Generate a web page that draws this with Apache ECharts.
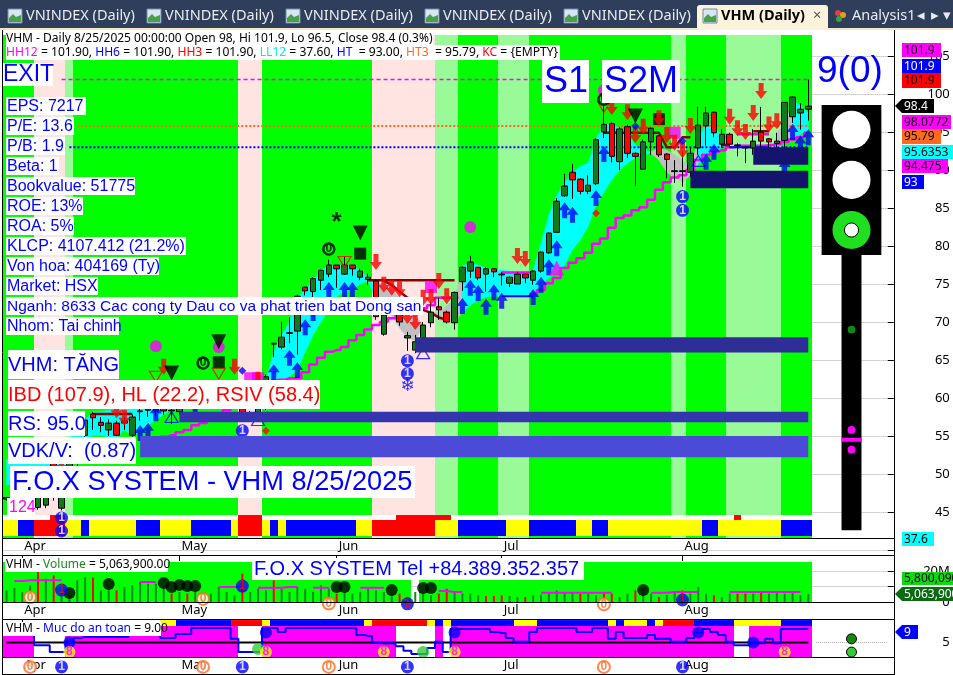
<!DOCTYPE html>
<html><head><meta charset="utf-8">
<style>html,body{margin:0;padding:0;background:#fff}#c{width:953px;height:675px}</style>
<script src="https://cdn.jsdelivr.net/npm/echarts@6/dist/echarts.min.js"></script>
</head><body><div id="c"></div>
<script>
const monthTickIndex=[2,22,42,63,86];
const monthNames=['Apr','May','Jun','Jul','Aug'];
const barCount=103, axisSlots=113;
// [open, close, low, high]
const ohlc=[[46.7,46.9,46.5,47],[46.5,47.2,46,47.5],[46,46.8,45.5,47.3],[45.4,46.5,45,47],[45.6,47,45.3,47.5],[45.9,47.5,45.5,48],[51.5,47,46.5,52],[45.5,49.5,45.2,50],[49,52,48.5,52.5],[51.5,54,51,54.5],
[55.1,57.1,54.8,57.5],[57.9,57.4,55.8,58.2],[56.8,56.4,55.5,57.5],[55.8,56.7,55,57.2],[56.7,55.1,55,57],[57,56.7,55.8,57.5],[55.1,57.5,54.9,57.8],[58.2,58.3,57,58.6],[58.4,58.6,57.5,59],[58.3,58.7,57.6,58.9],
[58.7,58.3,57.8,59],[58.3,58.4,56.6,58.7],[58.2,58.7,57.8,59.3],[59.5,60.5,59,61.5],[60.5,61,60,62],[60.8,61.3,60,61.7],[61.2,60.4,59.8,61.6],[60.2,61,59.8,61.5],[61,60.3,59.7,61.4],[60.3,59.9,59.3,60.8],
[59.1,57.8,56.9,59.6],[57.4,57.9,57,58.3],[58,59,57.7,60],[58.7,62.8,58.4,63.1],[67.1,67.2,65.4,67.2],[66.7,68,66.4,70],[68.5,68.6,67.2,70.6],[68.8,73.4,65.7,73.6],[74.6,74.1,73.5,74.6],[74,75.7,72.9,75.9],
[75.5,76.8,74.2,76.9],[76.3,77.5,75.9,78.2],[77.5,77,74.5,77.5],[76.3,77.5,76.2,78.6],[77.5,77,76.1,77.5],[75.9,76.7,75.5,77],[75.6,75.9,74.9,76.4],[75.4,70.7,70.3,75.6],[68.4,70.9,68.2,71.8],[72.8,71.7,71,73],
[71.2,70,69.5,71.5],[67.9,68.2,66.2,68.7],[66.3,67.4,65.9,68.3],[67.8,69.6,67,70],[69.9,71.3,69.3,72.6],[72,71.6,70.3,73.2],[71.3,70,69.8,71.5],[69.9,73.9,69,74],[75.3,77.2,74.1,77.3],[76.7,77.9,75.8,78.7],
[77.2,75.8,75.5,77.2],[76.3,77,74,77.2],[77,76.6,75.9,77],[76.2,76.3,74.8,76.6],[75.1,75.9,74.6,76],[75,76.3,75,76.6],[76.3,75.8,75.1,76.4],[75.5,76.7,74.9,76.8],[76.7,79.2,76.5,79.3],[79.1,81.7,79,81.8],
[81.8,85.9,81.8,86.3],[86.6,87.9,86.5,89.5],[89.7,88.7,86.2,90.8],[88.8,87.2,86.8,88.9],[87.2,88,86.8,89.3],[88.2,94,88,94.2],[95,96,94.2,98.8],[96.1,91.8,91,96.3],[91.1,95.4,90,95.6],[95.7,92.2,91.6,96],
[92.2,91.8,87.9,92.3],[90.1,93.7,90,94],[93.7,95.5,92,95.6],[94.5,92,91.7,94.6],[92.1,91.4,88.9,92.2],[89.8,89.9,88.3,91.3],[89.8,89.9,87.8,92.5],[89.7,92.2,89.1,92.9],[92.9,95.9,92,98.3],[95.8,97.5,93.2,98.3],
[97.6,94.9,94.3,97.7],[93.4,94.7,92.9,95.4],[94.7,93.4,92.9,94.9],[93.2,93.3,91.8,93.5],[92.9,93,90.9,93.1],[92.9,93.8,92,95.4],[95,93.8,92.2,98.3],[94.1,93.7,92,94.2],[93.5,93.8,92.2,94.9],[93.9,98.9,92.6,98.9],
[97,99.6,96.2,99.7],[97.5,98,95.3,98.8],[98,98.4,96.5,101.9]];
// ribbon [upper, lower] per bar
const ribbon=[[51.9,48.6],[52.1,48.7],[52.4,49],[52.6,49.2],[52.9,49.5],[53.2,49.7],[53.4,50.3],[53.8,50.8],[54.7,52.1],[55.8,53.2],[57.1,54.5],[58.2,55.1],[58.2,55.1],[58.4,54.9],[58.4,54.7],[59.1,55.8],[59.1,55],[59.1,55.8],[59.1,56.4],[59.1,57.1],[59.1,57.9],[59.1,58.4],
null,null,null,null,null,null,null,null,null,null,null,
[62.4,59.7],[66.1,60.8],[68.3,61.6],[70,62.8],[73.2,63.7],[74.3,66.1],[75.5,68.3],[76.8,70],[77.4,71.6],[77.5,73.4],[77.5,74],[77.4,74.3],[76.8,75],[75.8,75.4],
[75.4,72.9],[74.9,71.6],[74.2,70.9],[73.2,69.2],[72.2,68],[70.8,67.5],[69.6,69.6],[71.2,71.2],[71.3,70.3],[72.1,69.9],[72.9,69.9],
[77.4,71.3],[77.8,72.2],[77.5,72.9],[77.1,73.3],[76.8,73.5],[76.8,73.5],[76.7,73.4],[76.6,73.4],[76.6,73.5],[76.8,73.8],[80.4,74.9],[84.1,75.8],[86.7,76.6],[88.3,77.5],[89.7,79.5],[90.5,80.8],[90.9,82.6],[94.1,85.4],[95.9,87.1],[96.1,88.7],[95.5,90],[94.6,90.9],[93.3,91.6],[92.6,92],
[92.4,92.2],[92.9,91.3],[92.6,89.7],[92,89],[91.3,88.4],[90.5,89.3],[93.9,90.7],[96.2,91.7],[95.7,92.5],[94.6,93],[93.5,93.2],null,null,null,null,null,[95,93.7],[95.9,94],[99.2,94.2],[98.5,94.7],[97.5,95.3]];
const ribbonRuns=[[22,'C'],[11,'-'],[14,'C'],[6,'S'],[1,'-'],[4,'S'],[24,'C'],[6,'S'],[4,'C'],[6,'-'],[2,'S'],[3,'C']];
const trail=[null,null,null,null,null,null,null,null,null,null,null,null,null,null,null,null,null,null,null,null,54.9,55.1,55.5,55.8,56.4,56.7,57.1,57.8,58.4,59.5,60,60.8,61.3,61.7,62.1,62.4,62.6,62.6,63.4,64.4,65.3,66.1,66.3,66.7,67.6,68.3,69,69.6,70,70.5,70.9,71.3,71.6,71.8,72.2,73.2,73.2,73.2,null,null,null,null,null,null,null,null,null,73.7,74.2,75.1,75.8,77.1,77.8,78.4,79.1,80.3,81,82.4,83.7,84,84.7,85.1,86.1,87.4,88.4,89,89.3,90,91.3,92,92.4,92.6,93,93.2,93.2,93.2,93.2,93.3,93.4,93.7,94,94.3,94.9];
const trailBSegs=[[63,67,76.5],[93,97,94.7]];
const blueSegs=[[63,67,73.4],[92,97,93]];
const darkRedSegs=[[11,16,57.9],[46,57,75.5],[76,83,94.9],[84,85,93],[86,87,94.3],[91,92,93.3],[95,97,95.1]];
const darkRedFall=[[48,75.4],[49,74.9],[50,74],[51,73.2],[52,72.2],[53,71.6],[54,71.2],[55,70.6],[56,70.3]];
const levels={hh:101.9,ht3:95.79,ht:93};
const bandRuns=[[4,'G'],[4,'P'],[1,'L'],[21,'G'],[3,'P'],[14,'G'],[8,'P'],[3,'L'],[5,'G'],[4,'L'],[18,'G'],[2,'L'],[5,'G'],[7,'L'],[4,'G']];
const stripRuns=[[2,'Y'],[2,'B'],[4,'R'],[2,'Y'],[1,'B'],[6,'Y'],[3,'B'],[4,'Y'],[5,'B'],[1,'Y'],[3,'R'],[1,'Y'],[1,'B'],[1,'Y'],[9,'B'],[2,'Y'],[8,'R'],[3,'Y'],[6,'B'],[3,'Y'],[6,'B'],[2,'Y'],[2,'B'],[12,'Y'],[2,'B'],[8,'Y'],[4,'B']];
const raisedRed=[6,7,30,31,32,50,51,52,53,54,55,56,93];
// [start bar, end bar, price hi, price lo, colour]
const zones=[[87,102,89.9,87.6,'#14146e'],[95,102,93,90.7,'#14146e'],[52,102,68,66,'#2e2e96'],[22,102,58.2,56.8,'#3535b0'],[17,102,55,52.2,'#4b4bd8']];
const blueArrows=[[17,55.4],[18,55.7],[19,58],[24,58.7],[34,63.4],[36,65.3],[37,63.7],[38,69.3],[39,71.2],[41,74.2],[43,74.2],[44,74.2],[58,72.1],[59,74.5],[60,73.8],[61,72],[62,73.9],[63,72.8],[67,73.3],[68,74.9],[69,77.2],[70,79.7],[71,84.7],[72,84.1],[75,86.3],[76,92.1],[89,91.1],[90,92.4],[99,90.4],[100,95],[101,93.5],[102,94.3]];
const redArrows=[[7,51.2],[14,58.4],[15,57.4],[20,64.1],[29,64.1],[32,62.4],[47,77.9],[48,74.9],[49,74.5],[50,74.3],[51,70.8],[52,70],[53,73.2],[54,73.3],[55,75.4],[56,73.4],[65,78.7],[66,78.3],[77,98.3],[79,97.6],[80,94.6],[81,95.7],[83,96.8],[84,94.6],[85,93.6],[86,92.6],[87,95.8],[92,97],[93,95.5],[94,95],[95,97.5],[96,100.4],[97,96],[98,96.4]];
const hollowRedTri=[[19,62.8],[27,63.2],[43,77.9],[76,98.3]];
const hollowBlueTri=[[21,57.5],[32,57.1],[53,65.9],[88,91.2]];
const blackTri=[[21,63.3],[27,67.4],[45,81.7],[80,97.1]];
const blackSquares=[[27,64.7],[45,79],[83,96.7]];
const blackRings=[[25,64.6],[41,79.6],[76,99.3]];
const stars=[[42,83]];
const magentaDots=[[19,66.8],[27,66.7],[59,82.5],[76,100.5]];
const magentaSquares=[[54,74.6],[85,94.9],[31,62.6],[32,62.6]];
const magentaTri=[[70,77.1]];
const blueDiamonds=[[30,63.6],[80,95.8],[86,93.8]];
const redDiamonds=[[75,84.3],[33,55.7]];
const blueOnes=[[51,64.9],[51,63.2],[86,86.5],[86,84.7],[30,55.7],[7,44.2],[7,42.5]];
const flakes=[[51,61.5]];
const volumeM=[7.5,9.2,6.5,10.8,19.4,15,17.2,8.6,5.4,14,16.1,15.7,7.5,8.6,7.5,9.7,10.8,12.9,11.8,11.8,9.7,5.4,6.5,5.4,7.5,2.2,5.4,9.7,6.5,4.3,18.3,6.5,8.6,7.5,14,8.6,6.5,9.7,8.6,6.5,10.8,8.6,5.4,6.5,5.4,6.5,8.6,7.5,6.5,5.4,5.4,3.2,6.5,5.4,4.3,5.4,8.6,6.5,5.4,5.4,4.3,3.9,3.9,4.3,3.9,3.2,3.2,4.3,4.7,5.4,7.5,6,6,5.4,5.4,4.3,5.4,5.4,3.2,5.4,7.5,8.6,5.4,3.2,4.7,6,7.5,5.4,9.7,5.4,4.3,3.2,5.4,5.4,5.4,5.4,6.5,5.4,6,5.4,6.5,4.3,5.06];
const volumeRed=[4,6,11,14,21,23,30,34,42,50,55,56,61,62,63,66,73,76,77,80,83,86,90,93,94,96];
const volumeMASegs=[[1,2,13.5],[3,7,14],[17,19,12.9],[27,30,9.7],[32,35,9.2],[36,37,9.7],[39,41,9.2],[45,48,9.2],[55,56,7.1],[57,58,6.5],[68,70,6],[71,75,6],[76,77,6],[82,85,6],[85,88,6.5],[92,94,6.5],[95,96,6.5],[97,99,6.5],[100,101,6.5]];
const volumeDots=[[8,5.8],[13,11.6],[20,12.3],[21,9.7],[22,11],[23,10.3],[24,10.3],[42,9.7],[43,9.7],[49,7.7],[53,9],[54,9],[81,7.7]];
const volumeZeros=[[3,3],[25,2],[41,-1],[76,-1.5]];
const volumeOnes=[[7,7.7],[30,10.3],[51,-1.2],[86,1.3]];
const safetyValues=[7.5,7.5,7.5,7.5,4.2,4.2,2.1,2.1,5.2,6.4,6.7,6.7,6.7,6.7,6.7,6.7,7.5,7.5,7.5,7.5,6.4,6.4,7.6,7.6,9.4,9.4,9.4,9.4,9.4,6.1,2.1,2.1,2.1,9.4,9.4,8.2,9.4,9.4,9.4,9.4,9.4,9.4,9.4,9.4,9.4,7.3,7,5,4.8,4.8,3.9,2.5,1.5,1.5,3.3,5.2,2.1,9.1,9.1,9.1,9.1,9.1,8.2,7.9,6.4,5.2,5.2,8.2,9.4,9.4,9.4,9.4,9.4,8.2,8.2,9.4,9.4,6.1,8.2,6.4,6.4,6.4,7.3,6.1,6.1,5.2,5.2,6.4,8,9.1,8.2,7.3,5.2,4.2,4.2,4.8,4.8,6.1,4.8,9.1,9.1,9.1,9.1];
const safetyLevel=5;
const safetyStripRuns=[[20,'-'],[2,'Y'],[7,'B'],[4,'R'],[1,'Y'],[12,'B'],[1,'Y'],[7,'R'],[1,'Y'],[1,'B'],[1,'Y'],[8,'B'],[3,'Y'],[9,'B'],[1,'Y'],[1,'B'],[3,'Y'],[1,'B'],[1,'Y'],[4,'R'],[5,'B'],[6,'Y'],[4,'B']];
const safetyFillRuns=[[4,'L'],[4,'-'],[12,'L'],[10,'H'],[3,'-'],[17,'H'],[5,'-'],[1,'H'],[1,'-'],[36,'H'],[2,'-'],[8,'H']];
const safetyBlueDots=[[8,5],[33,8],[57,8],[88,8],[95,5]];
const safetyGreenDots=[[32,3],[53,2.1]];
const safetyEights=[[8,2.1],[33,2.1],[48,2.1],[57,2.1],[99,2.1]];
const safetyZeros=[[3,-2.4],[25,-2.4],[41,-2.4],[76,-2.4]];
const safetyOnes=[[7,-2.4],[30,-2.4],[51,-2.4],[86,-2.4]];
const lightSlot=107;
const lightBody=[98.55,78.8], lightStem=[78.8,42.6];
const lightCircles=[[95.3,'#ffffff'],[88.7,'#ffffff'],[82.1,'#1fe01f']];
const lightDots=[[69,'#118811'],[55.8,'#ff00ff'],[53.2,'#ff00ff']];
const lightBar=54.5;
const safetyLights=[[6.1,'#118811'],[2.1,'#33cc33']];

const runs=r=>{const a=[];r.forEach(([n,s])=>{for(let k=0;k<n;k++)a.push(s)});return a};
const segs=t=>{const a=new Array(barCount).fill(null);t.forEach(([s,e,v])=>{for(let k=s;k<=e;k++)a[k]=v});return a};
const categories=Array.from({length:axisSlots},(_,k)=>{const m=monthTickIndex.indexOf(k);return m>=0?monthNames[m]:''});
const BANDC={G:'#00ff00',P:'#ffe4e1',L:'#98fb98'};
const STRIPC={Y:'#ffff00',B:'#0000ff',R:'#ff0000'};
const GL=2.6,GW=888.2;
const UP='#117a1a';
const ARROW='path://M6,0 L12,8 L8.5,8 L8.5,16 L3.5,16 L3.5,8 L0,8 Z';
const FONT='"Liberation Sans",Arial,sans-serif';
const UI='"Noto Sans",sans-serif';

function rectAt(api,i,top,bot,color){
  const bw=api.size([1,0])[0];const c=api.coord([i,top]);const d=api.coord([i,bot]);
  const x0=Math.round(c[0]-bw/2),x1=Math.round(c[0]+bw/2);
  return {type:'rect',shape:{x:x0,y:c[1],width:x1-x0,height:d[1]-c[1]},style:{fill:color},silent:true};
}
function perBar(name,gi,states,colorOf,topOf,botOf,z){
  return {type:'custom',name,xAxisIndex:gi,yAxisIndex:gi,z,silent:true,clip:false,encode:{x:0,y:1},
    data:states.map((s,k)=>[k,topOf(s)]),
    renderItem(p,api){const s=states[p.dataIndex];const c=colorOf(s);if(!c)return null;return rectAt(api,api.value(0),topOf(s),botOf(s),c);}};
}
function pts(name,gi,data,opt){
  return Object.assign({type:'scatter',name,xAxisIndex:gi,yAxisIndex:gi,data,clip:false,silent:true,z:6,itemStyle:{},symbolSize:10},opt);
}
function badge(name,gi,data,txt,bg,fg,border,size,bw){
  return pts(name,gi,data,{symbol:'circle',symbolSize:size||13,z:8,itemStyle:{color:bg,borderColor:border,borderWidth:border===bg?0:(bw||2)},
    label:{show:true,position:'inside',formatter:txt,color:fg,fontWeight:'bold',fontSize:12,fontFamily:FONT}});
}
const months=top=>({type:'category',gridIndex:top,data:categories,position:'top',axisLine:{show:false},
  axisTick:{show:true,inside:true,length:6,alignWithLabel:true,lineStyle:{color:'#000'},interval:(k)=>monthTickIndex.includes(k)},
  axisLabel:{show:true,inside:true,interval:0,align:'left',margin:2,color:'#000',fontSize:13,fontFamily:UI,padding:[0,0,0,2]}});
const hiddenX=g=>({type:'category',gridIndex:g,data:categories,show:false});
const hiddenY=g=>({type:'value',gridIndex:g,show:false,min:0,max:1});
const dotted={show:true,lineStyle:{type:'dotted',color:'#aaa',width:1}};
const chart=echarts.init(document.getElementById('c'),null,{renderer:'canvas'});

const bands=runs(bandRuns), strip=runs(stripRuns), ribK=runs(ribbonRuns), sStrip=runs(safetyStripRuns), sFill=runs(safetyFillRuns);
const raisedStates=bands.map((_,k)=>raisedRed.includes(k)?'R':'-');

// ---------- graphic overlay ------------
const G=[];
function rect(x,y,w,h,fill,z){G.push({type:'rect',shape:{x,y,width:w,height:h},style:{fill},z:z||100,silent:true});}
function line(x1,y1,x2,y2,c,w){G.push({type:'line',shape:{x1,y1,x2,y2},style:{stroke:c||'#000',lineWidth:w||1},z:110,silent:true});}
function text(t,x,y,size,color,o){G.push({type:'text',x,y,z:120,silent:true,style:Object.assign({text:t,fill:color,font:(o&&o.bold?'bold ':'')+size+'px '+((o&&o.fam)||FONT),textVerticalAlign:'middle',textAlign:(o&&o.align)||'left'},o&&o.style)});}
function box(t,x,y,w,h,size,color,o){rect(x,y,w,h,'#fff',100);text(t,x+((o&&o.pad!=null)?o.pad:2),y+h/2+0.5,size,color,o);}
function tag(x,y,w,h,fill,t,fg,ptr){
  rect(x,y,w,h,fill,115);
  if(ptr)G.push({type:'polygon',shape:{points:[[x,y],[x-7,y+h/2],[x,y+h]]},style:{fill},z:115,silent:true});
  text(t,x+2,y+h/2+0.5,12,fg,{fam:UI});
}
function rich(parts,x,y,size){
  const rs={};let s='';parts.forEach(([t,c],k)=>{rs['p'+k]={fill:c,font:size+'px '+UI};s+='{p'+k+'|'+t+'}';});
  G.push({type:'text',x,y,z:120,silent:true,style:{text:s,rich:rs,font:size+'px '+UI,textVerticalAlign:'middle'}});
}
// tabs
rect(0,0,953,28,'#2f3e5a',200);
rect(0,28,953,2,'#f6e7c6',200);
function tabIcon(x){
  G.push({type:'rect',shape:{x,y:9,width:14,height:14},style:{fill:'#d6e6f2',stroke:'#6e8aa6',lineWidth:1},z:205,silent:true});
  G.push({type:'polygon',shape:{points:[[x+1,22],[x+1,18],[x+5,14],[x+8,17],[x+13,15],[x+13,22]]},style:{fill:'#4aa04a'},z:206,silent:true});
}
function tabText(t,x,c,o){G.push({type:'text',x,y:16,z:210,silent:true,style:{text:t,fill:c,font:(o?'bold ':'')+'14.5px '+UI,textVerticalAlign:'middle'}});}
[8,147,286,425,564].forEach(x=>{tabIcon(x);tabText('VNINDEX (Daily)',x+18,'#e8ecf2');});
G.push({type:'rect',shape:{x:697,y:5,width:131,height:25,r:[3,3,0,0]},style:{fill:'#fdf3dc'},z:202,silent:true});
tabIcon(703);tabText('VHM (Daily)',721,'#000',true);
tabText('×',813,'#555');
G.push({type:'circle',shape:{cx:838,cy:13,r:3},style:{fill:'#e04040'},z:206,silent:true});
G.push({type:'circle',shape:{cx:843,cy:15,r:3},style:{fill:'#e0a020'},z:206,silent:true});
G.push({type:'circle',shape:{cx:839,cy:19,r:3},style:{fill:'#40a040'},z:206,silent:true});
tabText('Analysis1',852,'#e8ecf2');
tabText('◂',917,'#e8ecf2');tabText('▸',931,'#e8ecf2');tabText('▾',943,'#e8ecf2');
// headline + white rows
rect(4,30,812,5,'#fff',100);
rect(6,33,427,12,'#fff',100);rect(6,45,554,15,'#fff',100);
rich([['VHM - Daily 8/25/2025 00:00:00 Open 98, Hi 101.9, Lo 96.5, Close 98.4 (0.3%)','#000']],6,38.5,12);
rich([['HH12','#ff00ff'],[' = 101.90, ','#000'],['HH6','#0000ff'],[' = 101.90, ','#000'],['HH3','#ff0000'],[' = 101.90, ','#000'],['LL12','#00e5ff'],[' = 37.60, ','#000'],['HT ','#0000ff'],[' = 93.00, ','#000'],['HT3 ','#ff6a20'],[' = 95.79, ','#000'],['KC','#ff0000'],[' = {EMPTY}','#000']],6,52.5,12.1);
const B='#0000ff';
box('EXIT',3,63,50,23,23,B,{pad:0});
[['EPS: 7217',80,97],['P/E: 13.6',68,117],['P/B: 1.9',59,137],['Beta: 1',53,157],['Bookvalue: 51775',129,177],['ROE: 13%',77,197],['ROA: 5%',68,217],['KLCP: 4107.412 (21.2%)',180,237],['Von hoa: 404169 (Ty)',153,257],['Market: HSX',92,277],['Nganh: 8633 Cac cong ty Dau co va phat trien bat Dong san',417,297],['Nhom: Tai chinh',113,317]].forEach(r=>box(r[0],6,r[2],r[1],18,r[1]===417?15.5:16,B,{pad:1}));
box('VHM: TĂNG',8,350,111,29,20,B,{pad:0});
box('IBD (107.9), HL (22.2), RSIV (58.4)',8,380,312,29,20,'#ff0000',{pad:0});
box('RS: 95.0',8,411,77,25,20,B,{pad:0});
box('VDK/V:  (0.87)',8,437,128,27,20,B,{pad:0});
box('F.O.X SYSTEM - VHM 8/25/2025',10,466,405,32,27.2,B);
box('124',7,498,28,18,16,'#ff00ff');
box('S1',542,60,47,43,36,B);
box('S2M',602,60,78,43,36,B);
text('9(0)',817,72,37,B);
box('F.O.X SYSTEM Tel +84.389.352.357',252,558,332,22,20,B);
rect(5,558,163,14,'#fff',100);
rich([['VHM - ','#000'],['Volume','#1a8a1a'],[' = 5,063,900.00','#000']],6,565,12);
rect(5,622,156,14,'#fff',100);
rich([['VHM - ','#000'],['Muc do an toan','#0000ff'],[' = 9.00','#000']],6,629,12);
// panel lines
[538,555,602,619,657,674].forEach(y=>line(2,y+.5,894,y+.5));
line(894.5,30,894.5,675);line(2.5,30,2.5,675);
// value tags
tag(902,43,39,14,'#ff00ff','101.9','#000');
tag(902,59,39,14,'#0000ff','101.9','#fff');
tag(902,73,39,15,'#ff0000','101.9','#000');
tag(902,99,32,14,'#000','98.4','#fff',true);
tag(902,115,49,14,'#ff00ff','98.0772','#000');
tag(902,129,39,15,'#ff6a20','95.79','#000');
tag(902,145,51,14,'#00ffff','95.6353','#000');
tag(902,159,46,14,'#ff00ff','94.475','#000');
tag(902,175,22,14,'#0000ff','93','#fff');
tag(902,532,32,14,'#00ffff','37.6','#000');
tag(902,572,51,13,'#10d810','5,800,090','#000');
tag(902,587,51,14,'#0c6a12','5,063,900','#fff',true);
tag(902,625,16,14,'#0000ff','9','#fff',true);

// ---------- option ------------
const grids=[[18,532],[555.5,46.5],[619.4,39.6],[538,17],[602,17],[657,17]].map(([top,height])=>({left:GL,width:GW,top,height,containLabel:false}));
const series=[
 perBar('bands',0,bands,s=>BANDC[s],()=>107.8,()=>44.6,1),
 perBar('bands2',0,bands,s=>BANDC[s],()=>41.84,()=>41.58,1),
 perBar('strip',0,strip,s=>STRIPC[s],()=>43.95,()=>41.84,1),
 perBar('raised',0,raisedStates,s=>STRIPC[s],()=>44.6,()=>43.95,1),
 {type:'custom',name:'ribbon',xAxisIndex:0,yAxisIndex:0,z:2,silent:true,clip:false,encode:{x:0,y:1},
  data:ribbon.map((r,k)=>[k,r?r[0]:null]),
  renderItem(p,api){const k=p.dataIndex;const r=ribbon[k],n=ribbon[k+1];if(!r||!n||ribK[k]==='-')return null;
    const a=api.coord([k,r[0]]),b=api.coord([k,r[1]]),c=api.coord([k+1,n[1]]),d=api.coord([k+1,n[0]]);
    return {type:'polygon',shape:{points:[a,b,c,d]},style:{fill:ribK[k]==='C'?'#00ffff':'#c0c0c0',stroke:ribK[k]==='C'?'#00ffff':'#c0c0c0',lineWidth:.5}};}},
 {type:'line',name:'HH',xAxisIndex:0,yAxisIndex:0,z:3,silent:true,symbol:'none',data:segs([[7,102,levels.hh]]),lineStyle:{color:'#ff00ff',width:1.5,type:[4,3]}},
 {type:'line',name:'HT3',xAxisIndex:0,yAxisIndex:0,z:3,silent:true,symbol:'none',data:segs([[9,102,levels.ht3]]),lineStyle:{color:'#ff6a20',width:2,type:'dotted'}},
 {type:'line',name:'HT',xAxisIndex:0,yAxisIndex:0,z:3,silent:true,symbol:'none',data:segs([[8,102,levels.ht]]),lineStyle:{color:'#0000ff',width:2,type:'dotted'}},
 {type:'line',name:'trail',xAxisIndex:0,yAxisIndex:0,z:3,silent:true,symbol:'none',step:'middle',data:trail,lineStyle:{color:'#ff00ff',width:2.5}},
 {type:'line',name:'trailB',xAxisIndex:0,yAxisIndex:0,z:3,silent:true,symbol:'none',data:segs(trailBSegs),lineStyle:{color:'#ff00ff',width:2.5}},
 {type:'line',name:'blue',xAxisIndex:0,yAxisIndex:0,z:3,silent:true,symbol:'none',data:segs(blueSegs),lineStyle:{color:'#0000ff',width:2}},
 {type:'line',name:'darkRed',xAxisIndex:0,yAxisIndex:0,z:3,silent:true,symbol:'none',data:segs(darkRedSegs),lineStyle:{color:'#8b0000',width:2.5}},
 {type:'line',name:'darkRedFall',xAxisIndex:0,yAxisIndex:0,z:3,silent:true,symbol:'none',data:darkRedFall,lineStyle:{color:'#8b0000',width:2.5}},
 {type:'candlestick',name:'VHM',xAxisIndex:0,yAxisIndex:0,z:4,silent:true,barWidth:6,data:ohlc,itemStyle:{color:UP,color0:'#ff0000',borderColor:'#000',borderColor0:'#000',borderWidth:1}},
 pts('blueArrows',0,blueArrows,{symbol:ARROW,symbolSize:[12,16],itemStyle:{color:'#0000ff'},z:5}),
 pts('redArrows',0,redArrows,{symbol:ARROW,symbolRotate:180,symbolSize:[12,16],itemStyle:{color:'#ff0000'},z:6}),
 pts('hollowRed',0,hollowRedTri,{symbol:'triangle',symbolRotate:180,symbolSize:[13,11],itemStyle:{color:'transparent',borderColor:'#ff0000',borderWidth:1.2}}),
 pts('hollowBlue',0,hollowBlueTri,{symbol:'triangle',symbolSize:[13,11],itemStyle:{color:'transparent',borderColor:'#0000ff',borderWidth:1.2}}),
 pts('blackTri',0,blackTri,{symbol:'triangle',symbolRotate:180,symbolSize:[15,15],itemStyle:{color:'#000'},z:7}),
 pts('blackSq',0,blackSquares,{symbol:'rect',symbolSize:12,itemStyle:{color:'#000'},z:5}),
 badge('blackRing',0,blackRings,'0','#00ff00','#000','#000',11,2.5),
 pts('star',0,stars,{symbolSize:1,itemStyle:{color:'transparent'},label:{show:true,position:'inside',formatter:'*',fontSize:26,fontWeight:'bold',color:'#000',fontFamily:FONT}}),
 pts('magentaDot',0,magentaDots,{symbol:'circle',symbolSize:12,itemStyle:{color:'#ff00ff'},z:5}),
 pts('magentaSq',0,magentaSquares,{symbol:'rect',symbolSize:12,itemStyle:{color:'#ff00ff'},z:5}),
 pts('magentaTri',0,magentaTri,{symbol:'triangle',symbolSize:[15,15],itemStyle:{color:'#ff00ff'},z:5}),
 pts('blueDia',0,blueDiamonds,{symbol:'diamond',symbolSize:8,itemStyle:{color:'#0000ff'}}),
 pts('redDia',0,redDiamonds,{symbol:'diamond',symbolSize:8,itemStyle:{color:'#ff0000'}}),
 badge('one',0,blueOnes,'1','#0000ff','#fff','#0000ff',13),
 pts('flake',0,flakes,{symbolSize:1,itemStyle:{color:'transparent'},label:{show:true,position:'inside',formatter:'❄',fontSize:17,color:'#0000ff',fontFamily:'"DejaVu Sans"'}}),
 {type:'custom',name:'zones',xAxisIndex:0,yAxisIndex:0,z:9,silent:true,clip:false,encode:{x:0,y:2},data:zones.map(z=>z.slice(0,4)),
  renderItem(p,api){const z=zones[p.dataIndex];const a=api.coord([z[0],z[2]]),b=api.coord([z[1],z[3]]);
    return {type:'rect',shape:{x:a[0],y:a[1],width:b[0]-a[0],height:b[1]-a[1]},style:{fill:z[4]}};}},
 {type:'custom',name:'light',xAxisIndex:0,yAxisIndex:0,z:9,silent:true,clip:false,encode:{x:0,y:1},data:[[lightSlot,lightBody[0]]],
  renderItem(p,api){const u=api.size([1,0])[0];const cx=api.coord([lightSlot,0])[0]+u/2;const y=v=>api.coord([lightSlot,v])[1];const ch=[];
    ch.push({type:'rect',shape:{x:cx-u*3.8,y:y(lightBody[0]),width:u*7.6,height:y(lightBody[1])-y(lightBody[0])},style:{fill:'#000'}});
    ch.push({type:'rect',shape:{x:cx-u*1.27,y:y(lightStem[0]),width:u*2.54,height:y(lightStem[1])-y(lightStem[0])},style:{fill:'#000'}});
    lightCircles.forEach(([v,c])=>ch.push({type:'circle',shape:{cx,cy:y(v),r:u*2.42},style:{fill:c}}));
    ch.push({type:'circle',shape:{cx,cy:y(lightCircles[2][0]),r:u*.9},style:{fill:'#fff',stroke:'#000',lineWidth:1}});
    lightDots.forEach(([v,c])=>ch.push({type:'circle',shape:{cx,cy:y(v),r:u*.5},style:{fill:c}}));
    ch.push({type:'rect',shape:{x:cx-u*1.27,y:y(lightBar)-2,width:u*2.54,height:4},style:{fill:'#ff00ff'}});
    return {type:'group',children:ch};}},
 // volume pane
 perBar('volBg',1,bands.map((s,k)=>k===52?'-':'G'),s=>s==='G'?'#00ff00':null,()=>25.8,()=>0,1),
 {type:'bar',name:'Volume',xAxisIndex:1,yAxisIndex:1,z:3,silent:true,barWidth:2,data:volumeM.map((v,k)=>({value:v,itemStyle:{color:volumeRed.includes(k)?'#ff0000':'#0b8a1e'}}))},
 {type:'line',name:'VolMA',xAxisIndex:1,yAxisIndex:1,z:4,silent:true,symbol:'none',data:segs(volumeMASegs),lineStyle:{color:'#ff00ff',width:2}},
 pts('volDots',1,volumeDots,{symbol:'circle',symbolSize:12,itemStyle:{color:'#000'}}),
 badge('vol0',1,volumeZeros,'0','#ffffff','#ff6a20','#ff6a20',12),
 badge('vol1',1,volumeOnes,'1','#0000ff','#ff0000','#0000ff',13),
 // safety pane
 perBar('safeFill',2,sFill,s=>s==='-'?null:'#ff00ff',s=>s==='H'?10:7,()=>0.6,1),
 perBar('safeStrip',2,sStrip,s=>STRIPC[s],()=>11.8,()=>10,1),
 {type:'line',name:'safeLevel',xAxisIndex:2,yAxisIndex:2,z:3,silent:true,symbol:'none',data:segs([[0,102,safetyLevel]]),lineStyle:{color:'#000',width:2}},
 {type:'line',name:'safeRef',xAxisIndex:2,yAxisIndex:2,z:2,silent:true,symbol:'none',data:new Array(103).fill(null).concat(new Array(10).fill(safetyLevel)),lineStyle:{color:'#aaa',width:1,type:'dotted'}},
 {type:'line',name:'safety',xAxisIndex:2,yAxisIndex:2,z:4,silent:true,symbol:'none',step:'middle',data:safetyValues,lineStyle:{color:'#0000ff',width:2}},
 pts('safeBlue',2,safetyBlueDots,{symbol:'circle',symbolSize:12,itemStyle:{color:'#0000ff'}}),
 pts('safeGreen',2,safetyGreenDots,{symbol:'circle',symbolSize:12,itemStyle:{color:'#33cc33'}}),
 badge('safe8',2,safetyEights,'8','#ffff00','#ff00ff','#ffff00',12),
 badge('safe0',2,safetyZeros,'0','#ffffff','#ff6a20','#ff6a20',12),
 badge('safe1',2,safetyOnes,'1','#0000ff','#fff','#0000ff',13),
 {type:'custom',name:'safeLights',xAxisIndex:2,yAxisIndex:2,z:5,silent:true,clip:false,encode:{x:0,y:1},data:safetyLights.map(l=>[lightSlot,l[0]]),
  renderItem(p,api){const l=safetyLights[p.dataIndex];const u=api.size([1,0])[0];const c=api.coord([lightSlot,l[0]]);
    return {type:'circle',shape:{cx:c[0]+u/2,cy:c[1],r:5},style:{fill:l[1],stroke:'#000',lineWidth:1}};}}
];
chart.setOption({
 animation:false,backgroundColor:'#fff',tooltip:{show:false},legend:{show:false},
 grid:grids,
 xAxis:[hiddenX(0),hiddenX(1),hiddenX(2),months(3),months(4),months(5)],
 yAxis:[
  {type:'value',gridIndex:0,position:'right',offset:3,min:40,max:110,interval:5,scale:false,
   axisLine:{show:true,lineStyle:{color:'#000'}},axisTick:{show:true,inside:true,length:6,lineStyle:{color:'#000'}},
   splitLine:dotted,
   axisLabel:{show:true,align:'right',margin:56,color:'#000',fontSize:13,fontFamily:UI,formatter:v=>(v<45||v>105)?'':String(v)}},
  {type:'value',gridIndex:1,position:'right',offset:3,min:0,max:30,interval:10,
   axisLine:{show:false},axisTick:{show:true,inside:true,length:6,lineStyle:{color:'#000'}},splitLine:dotted,
   axisLabel:{show:true,align:'right',margin:56,color:'#000',fontSize:13,fontFamily:UI,formatter:v=>v===20?'20M':(v===0?'0':'')}},
  {type:'value',gridIndex:2,position:'right',offset:3,min:0,max:12,interval:5,
   axisLine:{show:false},axisTick:{show:false},splitLine:{show:false},
   axisLabel:{show:true,align:'right',margin:56,color:'#000',fontSize:13,fontFamily:UI,formatter:v=>v===5?'5':''}},
  hiddenY(3),hiddenY(4),hiddenY(5)],
 series,
 graphic:{elements:G}
});
</script></body></html>
